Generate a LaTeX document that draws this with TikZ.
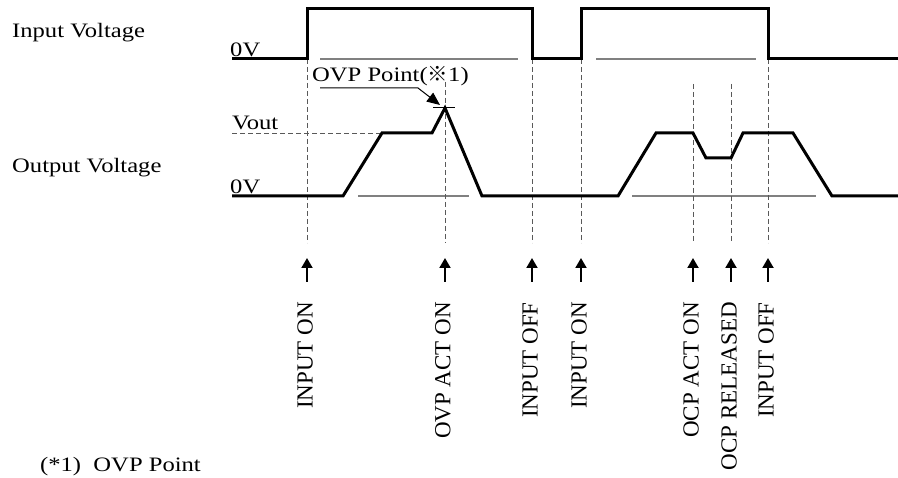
\documentclass[tikz,border=0pt]{standalone}
\usepackage{fontspec}
\setmainfont{Liberation Serif}
\newfontfamily\hfont[FakeStretch=1.2]{Liberation Serif}
\newfontfamily\cjk{Noto Sans CJK JP}
\usetikzlibrary{arrows.meta}
\begin{document}
\begin{tikzpicture}[x=1pt,y=-1pt,
  sig/.style={line width=3pt, line join=miter},
  grayln/.style={line width=1.5pt, draw=black!50},
  guide/.style={line width=0.8pt, draw=black!65, dash pattern=on 5pt off 3pt},
  htext/.style={inner sep=0pt, anchor=base west, font=\hfont\fontsize{20.5}{23}\selectfont},
  vlabel/.style={inner sep=0pt, rotate=90, anchor=east, font=\fontsize{23}{26}\selectfont},
  evarrow/.style={line width=2pt, -{Triangle[length=10pt,width=11pt]}},
  leader/.style={line width=1pt, -{Triangle[length=13pt,width=11pt]}},
]
\useasboundingbox (0,0) rectangle (898,478);

% left labels
\node[htext] (inlab) at (12,38) {Input Voltage};
\node[htext] (outlab) at (12,173) {Output Voltage};
\node[htext] (zin) at (230,57) {0V};
\node[htext] (vout) at (232,130) {Vout};
\node[htext] (zout) at (230,194) {0V};
\node[htext] (ovp) at (312,82) {OVP Point({\cjk ※}1)};
\node[htext] (foot) at (40,472) {(*1)\hspace{0.6em}OVP Point};

% gray reference lines
\draw[grayln] (320,59) -- (518,59);
\draw[grayln] (596,59) -- (756,59);
\draw[grayln] (358,196) -- (469,196);
\draw[grayln] (632,196) -- (816,196);

% Vout dashed level
\draw[guide] (232,133) -- (382,133);

% vertical guides
\foreach \x/\yt in {307/59, 445/82, 532/59, 581/59, 693/84, 731/84, 768/59}
  \draw[guide] (\x,\yt) -- (\x,243);

% input voltage
\draw[sig] (232,59) -- (307,59) -- (307,9) -- (532,9) -- (532,59) -- (581,59)
  -- (581,9) -- (768,9) -- (768,59) -- (898,59);

% output voltage
\draw[sig] (232,196) -- (343,196) -- (382,133) -- (432,133) -- (445,108)
  -- (482,196) -- (618,196) -- (656,133) -- (693,133) -- (706,158) -- (731,158)
  -- (743,133) -- (793,133) -- (832,196) -- (898,196);

% peak tick and OVP leader
\coordinate (peak) at (445,108);
\coordinate (ldA) at (320,88);
\coordinate (ldB) at (418,88);
\coordinate (ldC) at (440,105);
\draw[line width=1pt] (433,108) -- (455,108);
\draw[leader] (ldA) -- (ldB) -- (ldC);

% event arrows and labels
\foreach \x/\name/\txt in {307/a/INPUT ON, 445/b/OVP ACT ON, 532/c/INPUT OFF,
    581/d/INPUT ON, 693/e/OCP ACT ON, 731/f/OCP RELEASED, 768/g/INPUT OFF} {
  \coordinate (t\name) at (\x,282);
  \coordinate (h\name) at (\x,258);
  \draw[evarrow] (t\name) -- (h\name);
  \node[vlabel] (l\name) at (\x-2,302) {\txt};
}
\end{tikzpicture}
\end{document}
